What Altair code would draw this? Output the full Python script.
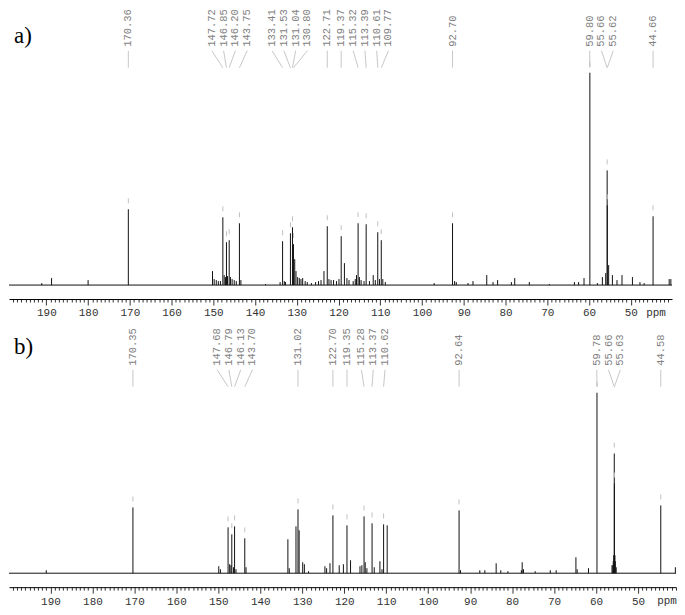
import altair as alt
import pandas as pd

# ---------------- data ----------------
# Panel a) labelled peaks (ppm) and their drawn heights (relative intensity)
A_PEAK_PPM = [170.36, 147.72, 146.85, 146.20, 143.75, 133.41, 131.53, 131.04, 130.80,
              122.71, 119.37, 115.32, 113.39, 110.61, 109.77, 92.70, 59.80, 55.66, 55.62, 44.66]
A_PEAK_INT = [76, 68, 43, 45, 62, 44, 52, 58, 41,
              59, 49, 62, 61, 53, 45, 62, 213, 115, 80, 69]
# Panel a) small unlabelled signals
A_MINOR_PPM = [191.1, 188.75, 180.0, 150.2, 149.8, 149.3, 148.8, 148.3, 147.4, 147.1, 146.6,
               145.9, 145.5, 145.0, 144.5, 143.4, 137.5, 134.0, 133.0, 132.7, 130.5, 130.2,
               129.8, 129.4, 129.0, 128.6, 128.0, 127.5, 126.5, 125.5, 124.8, 124.2, 123.5,
               122.3, 121.8, 121.2, 120.5, 119.9, 118.6, 118.0, 117.5, 116.5, 116.0, 115.7,
               115.0, 114.6, 113.9, 112.6, 111.7, 111.2, 110.2, 109.4, 108.8, 97.1, 92.2,
               91.8, 89.0, 87.8, 84.5, 83.0, 81.9, 78.6, 77.8, 74.3, 69.5, 63.5, 62.5, 61.2,
               58.0, 56.8, 56.0, 55.3, 54.4, 53.3, 52.1, 49.6, 47.8, 46.8, 40.8, 40.4]
A_MINOR_INT = [2, 7, 5, 14, 6, 5, 4, 4, 10, 8, 9,
               8, 6, 5, 4, 5, 1, 3, 4, 3, 26, 14,
               8, 7, 6, 7, 4, 3, 2, 3, 4, 5, 14,
               6, 5, 5, 4, 6, 22, 7, 5, 4, 6, 10,
               8, 5, 4, 4, 10, 5, 6, 6, 3, 2, 4,
               3, 2, 4, 10, 3, 5, 3, 7, 3, 1, 3, 3, 7,
               2, 8, 12, 20, 10, 5, 10, 8, 3, 2, 6, 6]

# Panel b) labelled peaks
B_PEAK_PPM = [170.35, 147.68, 146.79, 146.13, 143.70, 131.02, 122.70, 119.35, 115.28,
              113.37, 110.62, 92.64, 59.78, 55.66, 55.63, 44.58]
B_PEAK_INT = [66, 46, 39, 47, 35, 64, 58, 48, 57,
              50, 49, 63, 181, 120, 90, 68]
# Panel b) small unlabelled signals
B_MINOR_PPM = [191.0, 149.9, 149.5, 147.3, 147.0, 146.4, 145.8, 143.4, 133.43, 133.1, 131.5,
               130.75, 129.9, 129.5, 128.5, 124.6, 124.2, 123.4, 121.2, 120.2, 118.5, 116.25,
               115.8, 115.0, 114.6, 112.85, 111.5, 111.0, 109.77, 92.3, 87.7, 86.5, 83.8,
               82.7, 81.0, 77.8, 77.6, 77.3, 74.5, 70.9, 69.5, 64.8, 64.5, 61.8, 56.2, 56.0,
               55.9, 55.8, 55.5, 55.4, 55.2, 41.1]
B_MINOR_INT = [3, 7, 4, 9, 8, 6, 4, 6, 34, 5, 47,
               43, 11, 9, 2, 7, 5, 10, 8, 9, 13, 7,
               8, 11, 5, 6, 12, 4, 48, 3, 3, 3, 10,
               3, 2, 3, 11, 4, 2, 3, 3, 16, 4, 5, 8, 8,
               12, 18, 18, 12, 6, 6]

AXIS_TICKS = list(range(40, 201))

# ---------------- helpers ----------------
def spread_labels(ppm, dom_left, dom_right, width, gap):
    """Fan labels apart so that they do not overlap (returns label ppm positions)."""
    scale = width / (dom_left - dom_right)
    px = [(dom_left - p) * scale for p in ppm]
    order = sorted(range(len(px)), key=lambda i: px[i])
    clusters = [{"m": [i], "c": px[i]} for i in order]

    def edges(cl):
        half = (len(cl["m"]) - 1) / 2 * gap
        return cl["c"] - half, cl["c"] + half

    merged = True
    while merged:
        merged = False
        for k in range(len(clusters) - 1):
            if edges(clusters[k + 1])[0] - edges(clusters[k])[1] < gap:
                members = clusters[k]["m"] + clusters[k + 1]["m"]
                clusters[k] = {"m": members, "c": sum(px[i] for i in members) / len(members)}
                del clusters[k + 1]
                merged = True
                break
    out = [0.0] * len(px)
    for cl in clusters:
        n = len(cl["m"])
        for j, i in enumerate(cl["m"]):
            lp = cl["c"] + (j - (n - 1) / 2) * gap
            out[i] = dom_left - lp / scale
    return out


MONO = "Liberation Mono"


def panel(tag, peak_ppm, peak_int, minor_ppm, minor_int, dom, width, height,
          axis_offset, label_bottom, conn_top, conn_bottom, tag_y, unit_x):
    xs = alt.Scale(domain=dom, nice=False, zero=False)
    ys = alt.Scale(domain=[-2, height - 2], nice=False, zero=False)
    lo, hi = min(dom), max(dom)
    ticks = [v for v in AXIS_TICKS if lo < v < hi]
    ax = alt.Axis(values=ticks, title=None, grid=False, offset=axis_offset,
                  labelExpr="datum.value % 10 === 0 ? datum.label : ''",
                  tickSize={"condition": {"test": "datum.value % 10 === 0", "value": 6}, "value": 3},
                  labelFont=MONO, labelFontSize=11, labelColor="#333333",
                  domainColor="#000000", tickColor="#000000", tickWidth=0.8,
                  labelOverlap=False, labelPadding=2, labelFlush=False)
    X = lambda f: alt.X(f, scale=xs, axis=ax)

    lab_ppm = spread_labels(peak_ppm, dom[0], dom[1], width, 11.8)
    peaks = pd.DataFrame({
        "ppm": list(peak_ppm) + list(minor_ppm),
        "h": list(peak_int) + list(minor_int),
    })
    peaks["base"] = 0
    labs = pd.DataFrame({"ppm": peak_ppm, "h": peak_int, "lppm": lab_ppm,
                         "txt": [f"{p:.2f}" for p in peak_ppm]})
    labs["m1"] = labs["h"] + 6
    labs["m2"] = labs["h"] + 11
    base = pd.DataFrame({"a": [dom[0]], "b": [dom[1]], "y": [0]})

    baseline = alt.Chart(base).mark_rule(color="#111111", strokeWidth=1).encode(
        x=X("a:Q"), x2="b:Q", y=alt.Y("y:Q", scale=ys, axis=None))
    sticks = alt.Chart(peaks).mark_rule(color="#111111", strokeWidth=1).encode(
        x=X("ppm:Q"), y=alt.Y("base:Q", scale=ys, axis=None), y2="h:Q")
    markers = alt.Chart(labs).mark_rule(color="#c0c0c0", strokeWidth=1).encode(
        x=X("ppm:Q"), y=alt.Y("m1:Q", scale=ys, axis=None), y2="m2:Q")
    conns = alt.Chart(labs).mark_rule(color="#c0c0c0", strokeWidth=0.9).encode(
        x=X("lppm:Q"), x2="ppm:Q", y=alt.value(conn_top), y2=alt.value(conn_bottom))
    texts = alt.Chart(labs).mark_text(angle=270, align="left", baseline="middle",
                                      font=MONO, fontSize=10.5, color="#7f7f7f").encode(
        x=X("lppm:Q"), y=alt.value(label_bottom), text="txt:N")
    tagtxt = alt.Chart(pd.DataFrame({"t": [tag]})).mark_text(
        align="left", baseline="alphabetic", font="Liberation Serif", fontSize=23,
        color="#000000").encode(x=alt.value(5), y=alt.value(tag_y), text="t:N")
    unit = alt.Chart(pd.DataFrame({"t": ["ppm"]})).mark_text(
        align="center", baseline="top", font=MONO, fontSize=11, color="#333333").encode(
        x=alt.value(unit_x), y=alt.value(height + axis_offset + 8), text="t:N")

    return alt.layer(baseline, sticks, markers, conns, texts, tagtxt, unit).properties(
        width=width, height=height)


pa = panel("a)", A_PEAK_PPM, A_PEAK_INT, A_MINOR_PPM, A_MINOR_INT,
           dom=[198.95, 40.12], width=665, height=278, axis_offset=12,
           label_bottom=37, conn_top=41, conn_bottom=58, tag_y=33, unit_x=649)
pb = panel("b)", B_PEAK_PPM, B_PEAK_INT, B_MINOR_PPM, B_MINOR_INT,
           dom=[199.88, 40.95], width=669, height=247, axis_offset=12,
           label_bottom=37, conn_top=41, conn_bottom=58, tag_y=25, unit_x=660)

chart = alt.vconcat(pa, pb, spacing=10).configure_view(stroke=None).properties(
    padding=0, background="white")

chart.save("out.html", embed_options={"renderer": "svg", "actions": False})
